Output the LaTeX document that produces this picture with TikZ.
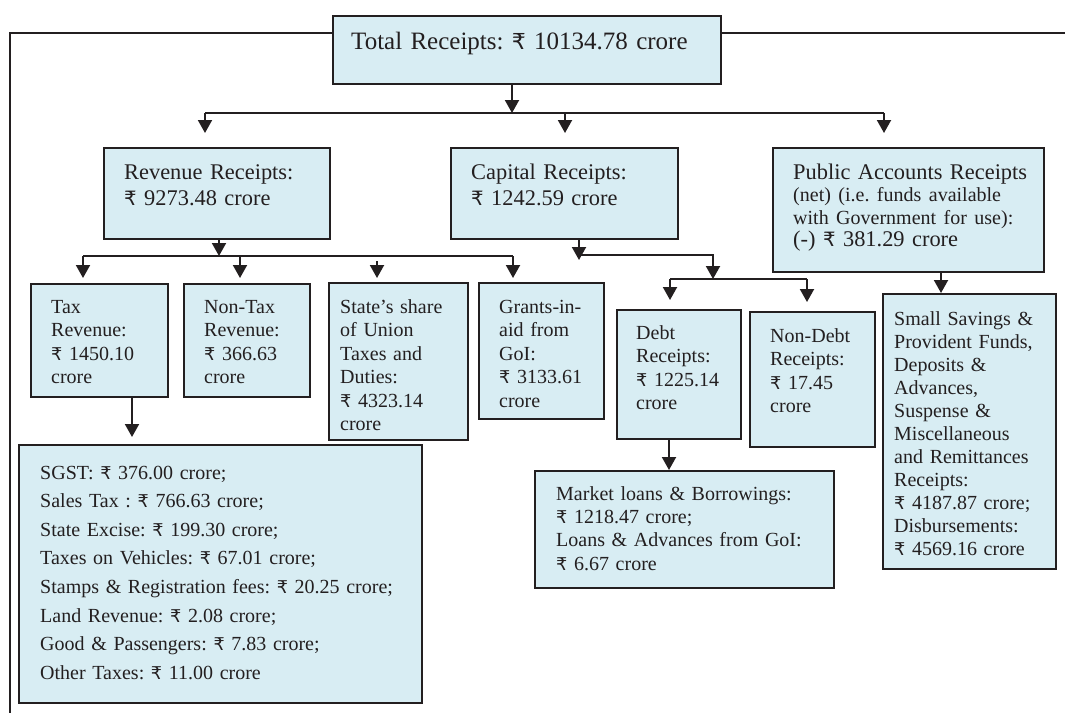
\documentclass[tikz,border=0pt]{standalone}
\usepackage{fontspec}
\setmainfont{Liberation Serif}
\newfontfamily\rupeefont[Scale=0.88]{DejaVu Sans}
\newcommand{\rs}{{\rupeefont ₹}~}
\usetikzlibrary{arrows.meta,calc}
\definecolor{boxblue}{RGB}{216,237,243}
\definecolor{linegray}{RGB}{35,31,32}
\frenchspacing

\begin{document}
\begin{tikzpicture}[
x=0.5pt, y=-0.5pt,
box/.style={
  draw=linegray,
  fill=boxblue,
  line width=1.2pt,
  anchor=north west,
  align=left,
  inner ysep=0pt,
  text=linegray
},
conn/.style={
  draw=linegray,
  line width=1pt
},
arr/.style={-{Triangle[length=6.5pt,width=7pt]}},
bigtxt/.style={font=\fontsize{11.2}{13}\selectfont},
smalltxt/.style={font=\fontsize{10}{11.75}\selectfont}
]
\useasboundingbox (0,0) rectangle (1065,713);

% top level
\node[box, font=\fontsize{12.5}{15}\selectfont, inner xsep=9pt,
  text width=176pt, text height=16.5pt, text depth=17.5pt]
  (tot) at (332,15) {Total Receipts: \rs 10134.78 crore};

\node[box, bigtxt, inner xsep=10pt,
  text width=93pt, text height=15.5pt, text depth=30pt]
  (rev) at (103,147) {Revenue Receipts:\\ \rs 9273.48 crore};
\node[box, bigtxt, inner xsep=10pt,
  text width=93.5pt, text height=15.5pt, text depth=30pt]
  (cap) at (450,147) {Capital Receipts:\\ \rs 1242.59 crore};
\node[box, font=\fontsize{11.2}{11.25}\selectfont, inner xsep=10pt,
  text width=115.5pt, text height=15.5pt, text depth=46.5pt]
  (pub) at (772,147) {\mbox{Public Accounts Receipts}\\
  {\fontsize{10}{11.25}\selectfont (net) (i.e. funds available}\\
  {\fontsize{10}{11.25}\selectfont with Government for use):}\\
  (-) \rs 381.29 crore};

% revenue receipts
\node[box, smalltxt, inner xsep=10pt,
  text width=48.5pt, text height=14.5pt, text depth=42pt]
  (tax) at (30,283) {Tax\\ Revenue:\\ \rs 1450.10\\ crore};
\node[box, smalltxt, inner xsep=10pt,
  text width=43pt, text height=14.5pt, text depth=42pt]
  (ntax) at (183,283) {Non-Tax\\ Revenue:\\ \rs 366.63\\ crore};
\node[box, smalltxt, inner xsep=5.5pt,
  text width=58.5pt, text height=15pt, text depth=63.5pt]
  (share) at (328,282) {State's share\\ of Union\\ Taxes and\\ Duties:\\ \rs 4323.14\\ crore};
\node[box, smalltxt, inner xsep=10pt,
  text width=42.5pt, text height=15pt, text depth=53pt]
  (grant) at (478,282) {\mbox{Grants-in-}\\ aid from\\ GoI:\\ \rs 3133.61\\ crore};

% capital receipts
\node[box, smalltxt, inner xsep=9.5pt,
  text width=43pt, text height=14.5pt, text depth=50pt]
  (debt) at (616,309) {Debt\\ Receipts:\\ \rs 1225.14\\ crore};
\node[box, smalltxt, inner xsep=10pt,
  text width=42.5pt, text height=15pt, text depth=52.5pt]
  (ndebt) at (749,311) {\mbox{Non-Debt}\\ Receipts:\\ \rs 17.45\\ crore};

% public accounts
\node[box, font=\fontsize{10}{11.5}\selectfont, inner xsep=5.5pt,
  text width=75.5pt, text height=15.5pt, text depth=122pt]
  (sav) at (882,293) {Small Savings \&\\ Provident Funds,\\ Deposits \&\\ Advances,\\
  Suspense \&\\ Miscellaneous\\ and Remittances\\ Receipts:\\
  \rs 4187.87 crore;\\ Disbursements:\\ \rs 4569.16 crore};

% details
\node[box, font=\fontsize{10}{14.29}\selectfont, inner xsep=10.5pt,
  text width=180.5pt, text height=17pt, text depth=112pt]
  (det) at (18,444) {SGST: \rs 376.00 crore;\\ Sales Tax : \rs 766.63 crore;\\
  State Excise: \rs 199.30 crore;\\ Taxes on Vehicles: \rs 67.01 crore;\\
  Stamps \& Registration fees: \rs 20.25 crore;\\ Land Revenue: \rs 2.08 crore;\\
  Good \& Passengers: \rs 7.83 crore;\\ Other Taxes: \rs 11.00 crore};
\node[box, font=\fontsize{10}{11.65}\selectfont, inner xsep=10.5pt,
  text width=128.5pt, text height=14.5pt, text depth=44pt]
  (mkt) at (534,470) {Market loans \& Borrowings:\\ \rs 1218.47 crore;\\
  Loans \& Advances from GoI:\\ \rs 6.67 crore};

% frame
\coordinate (fl) at (10,33);
\coordinate (fb) at (10,713);
\coordinate (fr) at (1065,33);
\draw[conn] (tot.west |- fl) -- (fl) -- (fb);
\draw[conn] (tot.east |- fr) -- (fr);

% first level
\coordinate (tb) at (512,113);
\coordinate (tbl) at (205,113);
\coordinate (tbc) at (565,113);
\coordinate (tbr) at (884,113);
\draw[conn,arr] (tot.south -| tb) -- (tb);
\draw[conn] (tbl) -- (tbr);
\draw[conn,arr,shorten >=7pt] (tbl) -- (tbl |- rev.north);
\draw[conn,arr,shorten >=7pt] (tbc) -- (tbc |- cap.north);
\draw[conn,arr,shorten >=7pt] (tbr) -- (tbr |- pub.north);

% revenue branch
\coordinate (rb) at (219,256);
\coordinate (rbl) at (83,256);
\coordinate (rbn) at (240,256);
\coordinate (rbs) at (377,256);
\coordinate (rbr) at (513,256);
\draw[conn,arr] (rev.south -| rb) -- (rb);
\draw[conn] (rbl) -- (rbr);
\draw[conn,arr,shorten >=2.5pt] (rbl) -- (rbl |- tax.north);
\draw[conn,arr,shorten >=2.5pt] (rbn) -- (rbn |- ntax.north);
\draw[conn,arr,shorten <=2.5pt,shorten >=2pt] (rbs) -- (rbs |- share.north);
\draw[conn,arr,shorten >=2pt] (rbr) -- (rbr |- grant.north);

% capital branch
\coordinate (cb) at (579,260);
\coordinate (cbj) at (579,255);
\coordinate (cbr) at (713,255);
\coordinate (db) at (713,279);
\coordinate (dbl) at (670,279);
\coordinate (dbr) at (807,279);
\draw[conn,arr] (cap.south -| cb) -- (cb);
\draw[conn,arr] (cbj) -- (cbr) -- (db);
\draw[conn] (dbl) -- (dbr);
\draw[conn,arr,shorten >=4.5pt] (dbl) -- (dbl |- debt.north);
\draw[conn,arr,shorten >=4.5pt] (dbr) -- (dbr |- ndebt.north);

% lower arrows
\coordinate (pa) at (941,271);
\coordinate (ta) at (132,396);
\coordinate (da) at (669,438);
\draw[conn,arr] (pub.south -| pa) -- (sav.north -| pa);
\draw[conn,arr,shorten >=3.5pt] (tax.south -| ta) -- (det.north -| ta);
\draw[conn,arr] (debt.south -| da) -- (mkt.north -| da);
\end{tikzpicture}
\end{document}
